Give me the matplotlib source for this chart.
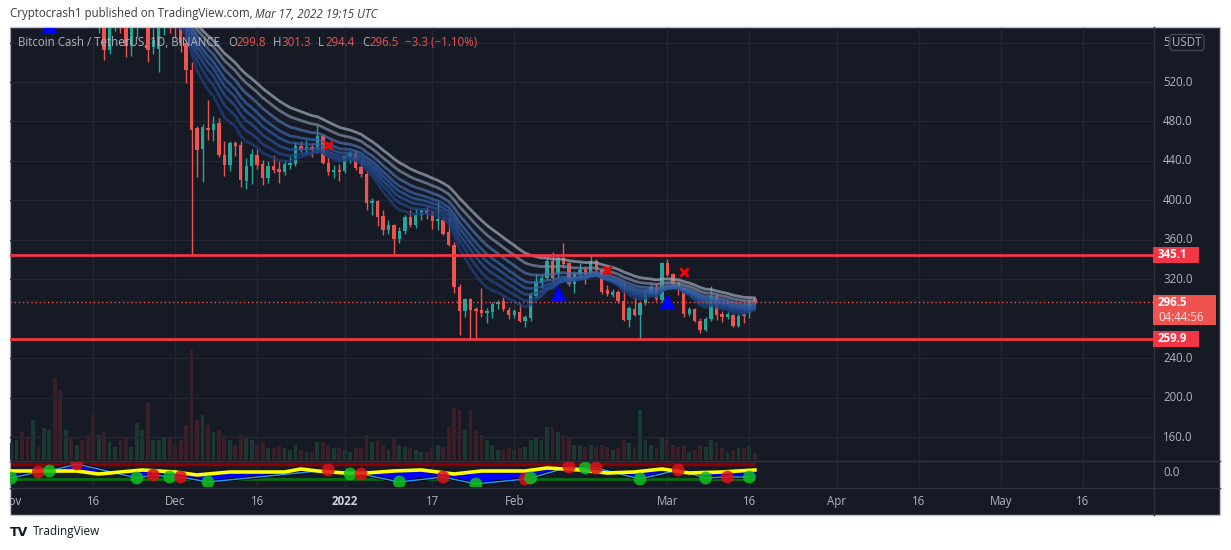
import numpy as np
import pandas as pd
import matplotlib
matplotlib.use("Agg")
import matplotlib.pyplot as plt
import matplotlib.dates as mdates
from matplotlib.patches import Rectangle, FancyBboxPatch
from matplotlib.transforms import Bbox

plt.rcParams["font.family"] = ["Open Sans", "DejaVu Sans"]

# ---- data: BCH/USDT daily, Nov 1 2021 .. Mar 17 2022 ----
dates = pd.date_range("2021-11-01", "2022-03-17", freq="D")

opens = [
    605, 620, 630, 615, 600, 632, 625, 655, 690, 680, 625, 640, 620, 630, 625,
    605, 585, 590, 552, 578, 590, 582, 557, 575, 582, 595, 556, 553, 575, 590,
    580, 575, 560, 532, 473, 452, 473, 471, 478, 446, 436, 458, 456, 420, 435, 446,
    437, 423, 435, 432, 429, 436, 437, 455, 451, 454, 451, 465, 438, 429, 431,
    430, 444, 448, 434, 427, 397, 399, 384, 370, 375, 361, 369, 383, 375, 385, 390,
    386, 379, 380, 368, 355, 312, 288, 300, 290, 289, 286, 287, 295, 298, 289,
    284, 287, 278, 281, 303, 316, 321, 339, 326, 342, 336, 315, 325, 329,
    325, 339, 329, 309, 304, 307, 298, 279, 290, 284, 296, 305, 311, 299,
    336, 325, 316, 311, 285, 290, 278, 269, 280, 303, 285, 282, 284, 273, 285, 286, 299.8,
]
highs = [
    630, 640, 650, 625, 640, 645, 660, 700, 720, 700, 650, 648, 640, 645, 640,
    610, 600, 600, 585, 595, 598, 590, 580, 588, 600, 600, 575, 580, 600, 605,
    595, 580, 575, 540, 475, 477, 502, 486, 484, 460, 460, 460, 460, 443, 452, 452,
    441, 440, 446, 440, 441, 444, 459, 460, 461, 458, 476, 467, 444, 436, 437,
    447, 450, 451, 440, 430, 402, 400, 390, 380, 376, 373, 385, 390, 391, 391, 393,
    389, 398, 383, 382, 358, 315, 301, 301, 292, 311, 291, 297, 299, 302, 292,
    290, 296, 284, 307, 325, 324, 342, 348, 344, 357, 338, 328, 336, 333,
    344, 341, 331, 314, 310, 309, 316, 293, 302, 298, 309, 315, 316, 337,
    341, 326, 318, 311, 292, 291, 281, 282, 313, 305, 288, 287, 285, 285, 288, 300, 301.3,
]
lows = [
    590, 605, 600, 590, 595, 615, 620, 650, 670, 600, 615, 610, 605, 610, 595,
    578, 570, 542, 548, 572, 570, 545, 546, 565, 575, 540, 548, 530, 568, 570,
    565, 550, 519, 345, 424, 419, 461, 460, 444, 425, 430, 445, 414, 412, 417, 432,
    416, 418, 428, 418, 426, 432, 435, 449, 447, 444, 448, 437, 426, 423, 420,
    428, 438, 431, 424, 390, 385, 374, 365, 366, 346, 357, 366, 373, 372, 380, 381,
    371, 370, 365, 354, 306, 263, 282, 260, 260, 282, 276, 281, 290, 288, 280,
    281, 277, 272, 278, 301, 311, 319, 318, 321, 331, 313, 306, 322, 315,
    323, 325, 305, 303, 302, 296, 278, 272, 283, 259, 294, 303, 298, 297,
    323, 313, 304, 282, 283, 277, 266, 268, 278, 279, 277, 280, 272, 272, 276, 281, 294.4,
]
closes = [
    620, 630, 615, 600, 632, 625, 655, 690, 680, 625, 640, 620, 630, 625, 605,
    585, 590, 552, 580, 590, 582, 557, 575, 582, 592, 552, 563, 575, 590, 580,
    575, 560, 532, 471, 451, 474, 471, 477, 446, 436, 458, 455, 421, 435, 447, 436,
    423, 435, 431, 429, 437, 438, 455, 451, 454, 451, 465, 438, 429, 431, 429,
    445, 448, 433, 427, 397, 399, 383, 370, 375, 361, 369, 383, 375, 385, 390, 386,
    379, 381, 366, 355, 312, 288, 300, 289, 288, 286, 288, 295, 297, 290, 284,
    288, 278, 282, 305, 318, 321, 339, 321, 342, 335, 315, 325, 329, 325,
    339, 329, 307, 305, 307, 298, 279, 291, 284, 296, 305, 312, 300, 336,
    324, 315, 311, 285, 290, 278, 269, 280, 303, 284, 282, 285, 273, 283, 283, 297, 296.5,
]
volumes = [  # thousand BCH
    34, 40, 56, 44, 80, 26, 64, 60, 164, 140, 60, 44, 30, 40, 50,
    90, 50, 56, 36, 26, 40, 44, 26, 74, 60, 114, 40, 40, 46, 44,
    30, 40, 70, 220, 80, 90, 70, 56, 60, 50, 40, 30, 50, 44, 40, 30,
    36, 24, 24, 28, 24, 20, 30, 20, 16, 16, 36, 36, 30, 24, 24,
    20, 16, 24, 24, 50, 36, 40, 30, 20, 44, 30, 26, 24, 20, 16, 16,
    24, 30, 26, 66, 104, 100, 60, 100, 60, 50, 40, 30, 20, 20, 24,
    20, 24, 26, 40, 44, 40, 66, 66, 56, 50, 44, 30, 30, 26,
    30, 26, 30, 26, 20, 24, 40, 34, 26, 100, 40, 30, 24, 44,
    40, 30, 26, 30, 16, 20, 30, 26, 40, 36, 24, 16, 20, 24, 24, 28, 14,
]

ribbon_spans = [10, 13, 16, 19, 22, 26, 31, 36]
ribbon_colors = ["#1d3f7e", "#22478a", "#285096", "#2d58a0", "#3561a8",
                 "#4a6da8", "#7a879f", "#9aa3b5"]

level_top = 345.1
level_bottom = 259.9
last_price = 296.5

buy_dates = ["2021-11-08", "2022-02-09", "2022-03-01"]
buy_prices = [578, 306, 298]
sell_dates = ["2021-12-29", "2022-02-18", "2022-03-04"]
sell_prices = [456, 329, 327]

# oscillator pane (pivot points)
osc_dates = ["2021-11-01", "2021-11-06", "2021-11-08", "2021-11-13", "2021-11-24",
             "2021-11-27", "2021-11-30", "2021-12-02", "2021-12-07", "2021-12-29",
             "2022-01-02", "2022-01-04", "2022-01-11", "2022-01-19", "2022-01-25",
             "2022-02-03", "2022-02-04", "2022-02-11", "2022-02-14", "2022-02-16",
             "2022-02-24", "2022-03-03", "2022-03-08", "2022-03-12", "2022-03-16"]
osc_values = [-6, 0, 1, 8, -6, -3, -5, -5, -10, 2, -2, -2, -10, -5, -12,
              -7, -6, 5, 4, 4, -7, 2, -6, -5, -5]
osc_side = ["g", "r", "g", "r", "g", "r", "g", "r", "g", "r", "g", "r", "g",
            "r", "g", "r", "g", "r", "g", "r", "g", "r", "g", "r", "g"]
sig_dates = ["2021-11-01", "2021-11-08", "2021-11-13", "2021-11-17", "2021-11-25",
             "2021-12-01", "2021-12-05", "2021-12-11", "2021-12-21", "2021-12-24",
             "2021-12-27", "2022-01-01", "2022-01-05", "2022-01-10", "2022-01-15",
             "2022-01-21", "2022-01-26", "2022-02-03", "2022-02-07", "2022-02-13",
             "2022-02-18", "2022-02-23", "2022-02-28", "2022-03-05", "2022-03-11",
             "2022-03-17"]
sig_values = [1, 1, 1, -2, 2, 0, -3, 0, 0, 3, 1, -1, -1, 1, 2, -2, 1, 1, 4, 2,
              -1, 0, 3, -1, 0, 2]
osc_upper = 8
osc_lower = -7

tick_dates = ["2021-11-01", "2021-11-16", "2021-12-01", "2021-12-16", "2022-01-01",
              "2022-01-17", "2022-02-01", "2022-03-01", "2022-03-16", "2022-04-01",
              "2022-04-16", "2022-05-01", "2022-05-16"]
tick_labels = ["Nov", "16", "Dec", "16", "2022", "17", "Feb", "Mar", "16", "Apr",
               "16", "May", "16"]
price_ticks = [160, 200, 240, 320, 360, 400, 440, 480, 520, 560]

# ---- styling ----
W, H = 1231, 550
BG = "#161a25"
GRID = "#232733"
SEP = "#2f333e"
TXT = "#b2b5be"
UP = "#26a69a"
DN = "#ef5350"


def box(l, t, r, b):
    return [l / W, 1 - b / H, (r - l) / W, (b - t) / H]


fig = plt.figure(figsize=(W / 100, H / 100), dpi=100)
fig.patch.set_facecolor("white")

bg = fig.add_axes([0, 0, 1, 1], zorder=-5)
bg.set_xlim(0, W)
bg.set_ylim(H, 0)
bg.axis("off")
bg.add_patch(Rectangle((10, 27), 1210, 488, facecolor=BG, edgecolor="#c3c6ce", lw=1))

x = mdates.date2num(dates.to_pydatetime())
d0 = mdates.date2num(pd.Timestamp("2021-12-01").to_pydatetime())
xlim = (d0 - 30.2, d0 + 178.8)

o = np.array(opens, float)
h = np.array(highs, float)
l = np.array(lows, float)
c = np.array(closes, float)
colors = np.where(c >= o, UP, DN)

# volume (underlay)
axv = fig.add_axes(box(10, 28, 1153, 460), zorder=0)
axv.set_facecolor("none")
vol_colors = np.where(c >= o, "#1b3833", "#3a1f29")
axv.bar(x, volumes, width=0.7, color=vol_colors, linewidth=0)
axv.set_xlim(*xlim)
axv.set_ylim(0, 864)
axv.axis("off")

# price pane
ax = fig.add_axes(box(10, 28, 1153, 460), zorder=1)
ax.patch.set_visible(False)
ax.set_xlim(*xlim)
ax.set_ylim(136.7, 574.8)
for sp in ax.spines.values():
    sp.set_visible(False)
ax.set_xticks([])
ax.set_yticks([])

tick_x = mdates.date2num(pd.to_datetime(tick_dates).to_pydatetime())
for p in price_ticks:
    ax.axhline(p, color=GRID, lw=1, zorder=0.5)
for t in tick_x:
    ax.axvline(t, color=GRID, lw=1, zorder=0.5)

ax.vlines(x, l, h, colors=colors, lw=1, zorder=3)
ax.bar(x, np.maximum(np.abs(c - o), 0.6), bottom=np.minimum(o, c), width=0.62,
       color=colors, linewidth=0, zorder=4)

close_s = pd.Series(c, index=x)
for span, col in zip(ribbon_spans, ribbon_colors):
    ema = close_s.ewm(span=span, adjust=False).mean()
    ax.plot(x, ema.values, color=col, lw=2, alpha=0.75, zorder=5,
            solid_capstyle="round")

ax.axhline(level_top, color="#f23645", lw=2, zorder=6)
ax.axhline(level_bottom, color="#f23645", lw=2, zorder=6)
ax.axhline(last_price, color=DN, lw=1, ls=(0, (1, 2)), zorder=6)

bx = mdates.date2num(pd.to_datetime(buy_dates).to_pydatetime())
ax.scatter(bx, buy_prices, marker="^", s=125, color="#0000ff", zorder=7, linewidths=0)
sx = mdates.date2num(pd.to_datetime(sell_dates).to_pydatetime())
ax.scatter(sx, sell_prices, marker="x", s=36, color="#ff0000", zorder=7, linewidths=2)

# oscillator pane
axo = fig.add_axes(box(10, 461, 1153, 487), zorder=1)
axo.patch.set_visible(False)
axo.set_xlim(*xlim)
axo.set_ylim(-15, 11)
axo.axis("off")
for t in tick_x:
    axo.axvline(t, color=GRID, lw=1, zorder=0.5)
axo.hlines([osc_upper], x[0], x[-1], color="#8b0000", lw=2.5, zorder=1)
axo.hlines([osc_lower], x[0], x[-1], color="#0b6b12", lw=2, zorder=1)
ox = mdates.date2num(pd.to_datetime(osc_dates).to_pydatetime())
gx = mdates.date2num(pd.to_datetime(sig_dates).to_pydatetime())
xs = np.union1d(ox, gx)
axo.fill_between(xs, np.interp(xs, ox, osc_values), np.interp(xs, gx, sig_values),
                 color="#0000ff", linewidth=0, zorder=2)
axo.plot(ox, osc_values, color="#000000", lw=2.5, zorder=2.5)
axo.plot(ox, osc_values, color="#2196f3", lw=1.1, zorder=3)
axo.plot(gx, sig_values, color="#ffff00", lw=2.6, zorder=4)
dot_cols = ["#e0101a" if s == "r" else "#10c020" for s in osc_side]
axo.scatter(ox, osc_values, s=85, color=dot_cols, alpha=0.85, linewidths=0, zorder=5)

# time axis
axt = fig.add_axes(box(10, 488, 1153, 515), zorder=1)
axt.set_xlim(*xlim)
axt.set_ylim(0, 1)
axt.axis("off")
for t, lab in zip(tick_x, tick_labels):
    bold = lab == "2022"
    tt = axt.text(t, 0.5, lab, ha="center", va="center", fontsize=8.3,
                  color="#d1d4dc" if bold else TXT,
                  fontweight="bold" if bold else "normal", clip_on=True)
    tt.set_clip_box(axt.bbox)

# overlay: separators, labels, texts
ov = fig.add_axes([0, 0, 1, 1], zorder=10)
ov.set_xlim(0, W)
ov.set_ylim(H, 0)
ov.axis("off")
ov.plot([10, 1220], [460.5, 460.5], color=SEP, lw=1)
ov.plot([10, 1220], [487.5, 487.5], color=SEP, lw=1)
ov.plot([1153.5, 1153.5], [27, 515], color=SEP, lw=1)


def py(p, axes=ax):
    return H - axes.transData.transform((xlim[0], p))[1]


for p in price_ticks:
    pt = ov.text(1163, py(p), f"{p:.1f}", ha="left", va="center", fontsize=8.3,
                 color=TXT, zorder=2)
    if p == 560:
        # the unit badge hides all but the first digit
        pt.set_clip_on(True)
        pt.set_clip_box(Bbox([[1154, 0], [1169, H]]))
ov.text(1163, py(0, axo), "0.0", ha="left", va="center", fontsize=8.3, color=TXT)

ov.add_patch(FancyBboxPatch((1170, 34.5), 34, 16, boxstyle="round,pad=0,rounding_size=3",
                            facecolor=BG, edgecolor="#434651", lw=1, zorder=5))
ov.text(1187, 42.5, "USDT", ha="center", va="center", fontsize=8.3, color=TXT, zorder=6)

for lv in (level_top, level_bottom):
    yy = py(lv)
    ov.add_patch(Rectangle((1153, yy - 8), 46, 16, facecolor="#f23645", edgecolor="none",
                           zorder=5))
    ov.text(1158, yy, f"{lv:.1f}", ha="left", va="center", fontsize=8.3,
            color="white", fontweight="bold", zorder=6)
yy = py(last_price)
ov.add_patch(Rectangle((1153, yy - 7), 63, 30, facecolor="#ef5350", edgecolor="none",
                       zorder=5))
ov.text(1158, yy + 0.5, f"{last_price:.1f}", ha="left", va="center", fontsize=8.3,
        color="white", fontweight="bold", zorder=6)
ov.text(1158, yy + 15, "04:44:56", ha="left", va="center", fontsize=8.3,
        color="#fbe3e3", zorder=6)

# header & legend
ov.text(10, 14, "Cryptocrash1 published on TradingView.com, ", ha="left",
        va="center", fontsize=8.3, color="#3c3c3c")
ov.text(255, 14, "Mar 17, 2022 19:15 UTC", ha="left", va="center", fontsize=8.3,
        color="#3c3c3c", style="italic")
ov.text(18, 42, "Bitcoin Cash / TetherUS, 1D, BINANCE", ha="left", va="center",
        fontsize=8.3, color=TXT)
for lx, letter, vx, val in [(228, "O", 236, "299.8"), (273, "H", 281, "301.3"),
                            (318, "L", 325, "294.4"), (362, "C", 369, "296.5")]:
    ov.text(lx, 42, letter, ha="left", va="center", fontsize=8.3, color=TXT)
    ov.text(vx, 42, val, ha="left", va="center", fontsize=8.3, color=DN)
ov.text(405, 42, "\u22123.3 (\u22121.10%)", ha="left", va="center", fontsize=8.3, color=DN)

ov.text(10, 532, "TV", ha="left", va="center", fontsize=9, color="#131722",
        fontweight="bold", family="DejaVu Sans")
ov.text(33, 532, "TradingView", ha="left", va="center", fontsize=8.5, color="#131722")

fig.savefig("out.png", dpi=100, facecolor="white")
